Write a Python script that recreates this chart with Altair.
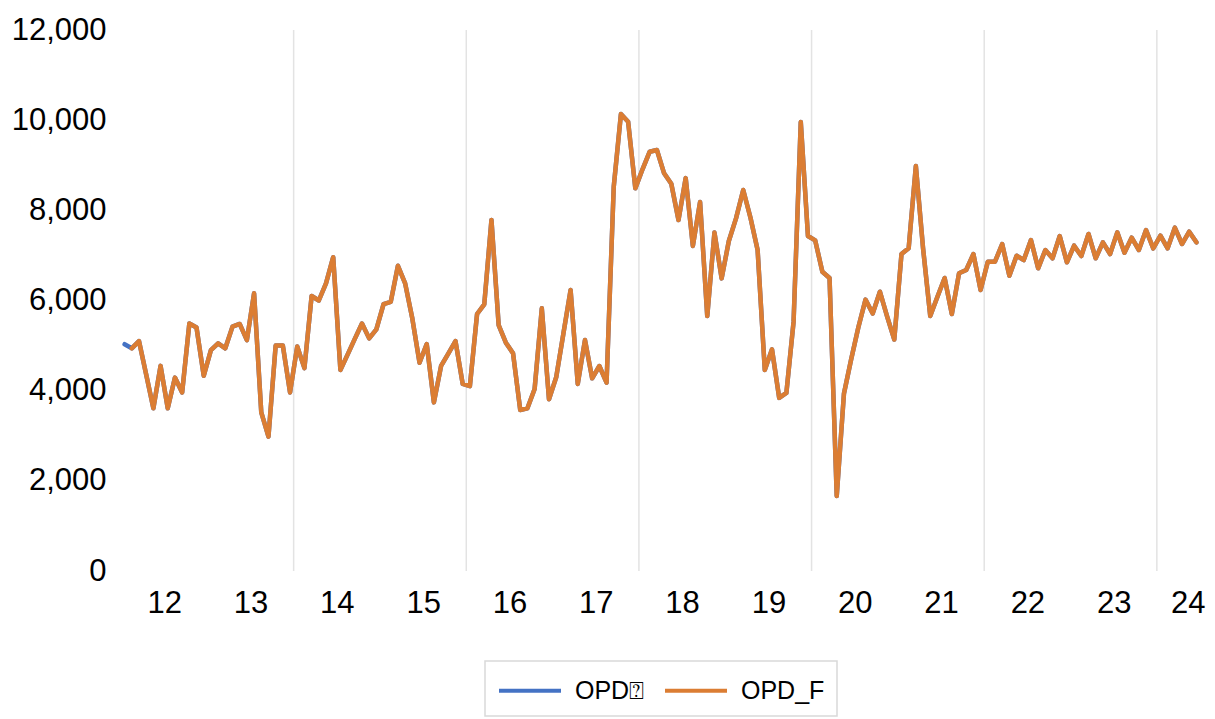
import altair as alt
import pandas as pd

# ---- data (monthly index 0..149) ----
series_names = ["OPD\u2370", "OPD_F"]
series_colors = ["#4472C4", "#DB7D33"]

opd_start = [5030]  # first month, only the OPD series
opd_f = [
    4940, 5100, 4360, 3610, 4550, 3610, 4290, 3960, 5490, 5400,
    4330, 4900, 5050, 4940, 5420, 5480, 5120, 6160, 3520, 2980,
    5000, 5000, 3960, 4980, 4500, 6100, 6000, 6380, 6960, 4460,
    4800, 5150, 5490, 5160, 5360, 5920, 5970, 6770, 6380, 5600,
    4620, 5035, 3740, 4550, 4820, 5100, 4150, 4100, 5700, 5915,
    7785, 5456, 5065, 4828, 3571, 3608, 4037, 5826, 3808, 4296,
    5264, 6233, 4148, 5124, 4274, 4547, 4177, 8524, 10136, 9966,
    8488, 8910, 9300, 9338, 8821, 8590, 7785, 8715, 7210, 8185,
    5656, 7508, 6491, 7320, 7822, 8451, 7840, 7120, 4458, 4917,
    3840, 3950, 5530, 9960, 7430, 7335, 6639, 6500, 1664, 3930,
    4690, 5400, 6020, 5710, 6195, 5650, 5135, 7031, 7160, 8983,
    7160, 5656, 6084, 6500, 5700, 6603, 6676, 7031, 6233, 6861,
    6861, 7253, 6550, 6993, 6898, 7342, 6714, 7120, 6936, 7430,
    6847, 7216, 6987, 7475, 6936, 7290, 7031, 7512, 7060, 7393,
    7120, 7563, 7157, 7437, 7157, 7615, 7253, 7526, 7290,
]
opd = opd_start + opd_f  # actual series (hidden below the forecast)

year_labels = ["12", "13", "14", "15", "16", "17", "18", "19", "20", "21", "22", "23", "24"]
year_label_pos = [5.5, 17.5, 29.5, 41.5, 53.5, 65.5, 77.5, 89.5, 101.5, 113.5, 125.5, 137.5, 147.8]
grid_pos = [23.5, 47.5, 71.5, 95.5, 119.5, 143.5]
y_ticks = [0, 2000, 4000, 6000, 8000, 10000, 12000]

rows = []
for i, v in enumerate(opd):
    rows.append({"m": i, "series": series_names[0], "value": v})
for i, v in enumerate(opd_f):
    rows.append({"m": i + 1, "series": series_names[1], "value": v})
df = pd.DataFrame(rows)
grid_df = pd.DataFrame({"g": grid_pos})

FONT = "Liberation Sans"

label_expr = " : ".join(
    [f"datum.value == {p} ? '{t}'" for p, t in zip(year_label_pos, year_labels)] + ["''"]
)

x_scale = alt.Scale(domain=[-0.5, 149.5], nice=False, zero=False)
y_scale = alt.Scale(domain=[0, 12000], nice=False)
color_scale = alt.Scale(domain=series_names, range=series_colors)

x_enc = alt.X(
    "m:Q",
    scale=x_scale,
    axis=alt.Axis(
        values=year_label_pos,
        labelExpr=label_expr,
        grid=False,
        ticks=False,
        domain=False,
        title=None,
        labelFontSize=31,
        labelFont=FONT,
        labelColor="#000000",
        labelPadding=17,
        labelOverlap=False,
        labelFlush=False,
    ),
)
y_enc = alt.Y(
    "value:Q",
    scale=y_scale,
    axis=alt.Axis(
        values=y_ticks,
        format=",.0f",
        grid=False,
        ticks=False,
        domain=False,
        title=None,
        labelFontSize=31,
        labelFont=FONT,
        labelColor="#000000",
        labelPadding=15,
    ),
)

grid = alt.Chart(grid_df).mark_rule(color="#E3E3E3", strokeWidth=1.5).encode(
    x=alt.X("g:Q", scale=x_scale)
)

legend = alt.Legend(
    title=None,
    orient="none",
    legendX=364,
    legendY=631,
    direction="horizontal",
    symbolType="M-1,0H3",
    symbolSize=961,
    symbolStrokeWidth=4,
    labelFontSize=25,
    labelFont=FONT,
    labelColor="#000000",
    labelOffset=43,
    columnPadding=12,
    padding=12,
    strokeColor="#D9D9D9",
    fillColor="#FFFFFF",
)

blue = (
    alt.Chart(df)
    .transform_filter(alt.datum.series == series_names[0])
    .mark_line(strokeWidth=4.5, strokeCap="round", strokeJoin="round")
    .encode(x=x_enc, y=y_enc, color=alt.Color("series:N", scale=color_scale, legend=legend))
)
orange = (
    alt.Chart(df)
    .transform_filter(alt.datum.series == series_names[1])
    .mark_line(strokeWidth=4.5, strokeCap="round", strokeJoin="round")
    .encode(x=x_enc, y=y_enc, color=alt.Color("series:N", scale=color_scale, legend=legend))
)

chart = (
    alt.layer(grid, blue, orange)
    .properties(
        width=1079,
        height=541,
        autosize=alt.AutoSizeParams(type="none"),
        padding={"left": 113, "top": 22, "right": 7, "bottom": 147},
        background="#FFFFFF",
    )
    .configure_view(strokeWidth=0)
    .configure_legend(strokeWidth=1.5)
)

chart.save("out.html", embed_options={"renderer": "svg", "actions": False})
